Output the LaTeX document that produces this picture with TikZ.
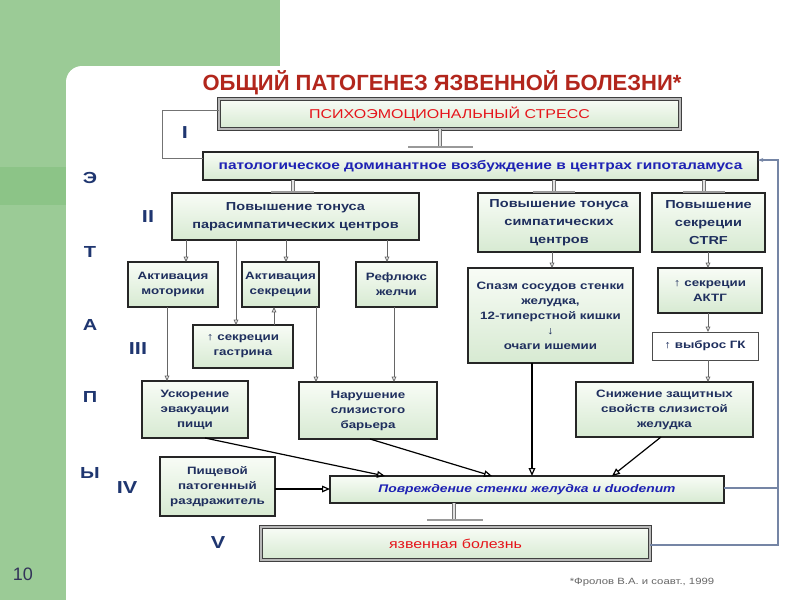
\documentclass[tikz,border=0pt]{standalone}
\usepackage{fontspec}
\setmainfont{Liberation Sans}
\newfontfamily\wf{Liberation Sans}[FakeStretch=1.25]
\usetikzlibrary{arrows.meta,calc,shadows}
\definecolor{bggreen}{HTML}{9BCB96}
\definecolor{bgdark}{HTML}{8CC487}
\definecolor{navy}{HTML}{1F2F5E}
\definecolor{lbl}{HTML}{1F3670}
\definecolor{ttl}{HTML}{B2261C}
\definecolor{redtxt}{HTML}{E5141A}
\definecolor{bluetxt}{HTML}{1E22B4}
\definecolor{fb}{HTML}{7585A5}
\definecolor{boxtop}{HTML}{F8FCF6}
\definecolor{boxbot}{HTML}{D7EAD2}
\newcommand\boxat[7]{\node[#6, minimum width={(#4-#2)*0.75pt}, minimum height={(#5-#3)*0.75pt}] (#1) at ({(#2+#4)/2},{(#3+#5)/2}) {#7};}
\tikzset{
  box/.style={draw=black!85, line width=0.8pt, top color=boxtop, bottom color=boxbot,
    inner sep=1pt, outer sep=0pt, align=center, text=navy,
    font=\wf\bfseries\fontsize{8}{11.25}\selectfont,
    drop shadow={shadow xshift=0.7pt, shadow yshift=-0.7pt, fill=black, opacity=0.3}},
  big/.style={box, font=\wf\bfseries\fontsize{8.7}{13.5}\selectfont},
  dbl/.style={box, draw=black!75, double=black!28, double distance=1.8pt, line width=0.6pt,
    font=\wf\fontsize{9.6}{12}\selectfont, text=redtxt},
  hypofont/.style={text=bluetxt, font=\wf\bfseries\fontsize{9.3}{11}\selectfont},
  povrfont/.style={text=bluetxt, font=\wf\bfseries\itshape\fontsize{8.3}{11}\selectfont},
  whitebox/.style={box, fill=white, top color=white, bottom color=white, draw=black!70, line width=0.6pt, drop shadow={opacity=0}},
  rom/.style={anchor=base, text=lbl, inner sep=0pt, font=\wf\bfseries\fontsize{13}{15}\selectfont},
  lab/.style={anchor=base, text=lbl, inner sep=0pt, font=\wf\bfseries\fontsize{12}{14}\selectfont},
  garr/.style={draw=black!60, line width=0.6pt, -{Triangle[open, length=4pt, width=3.5pt]}},
  barr/.style={draw=black, line width=0.9pt, -{Triangle[open, length=6pt, width=5pt]}},
  fbl/.style={draw=fb, line width=0.8pt},
  brk/.style={draw=black!55, line width=0.7pt},
  tstem/.style={draw=black!55, double=black!12, double distance=1.3pt, line width=0.5pt},
  tbase/.style={draw=black!40, line width=1.2pt}
}
\begin{document}
\begin{tikzpicture}[x=0.75pt,y=-0.75pt]
\useasboundingbox (0,0) rectangle (800,600);
\fill[white] (0,0) rectangle (800,600);
\fill[bggreen] (0,0) rectangle (280,66);
\fill[bggreen] (0,0) rectangle (66,600);
\fill[bggreen] (66,66) rectangle (90,90);
\fill[white, rounded corners=12pt] (66,66) rectangle (830,630);
\fill[bgdark] (0,167) rectangle (66,205);

% title
\node[anchor=base, text=ttl, inner sep=0pt, font=\bfseries\fontsize{16.5}{20}\selectfont] (title) at (442,90) {ОБЩИЙ ПАТОГЕНЕЗ ЯЗВЕННОЙ БОЛЕЗНИ*};

% boxes
\boxat{stress}{219}{99}{680}{129}{dbl}{ПСИХОЭМОЦИОНАЛЬНЫЙ СТРЕСС}
\boxat{hypo}{203}{152}{758}{180}{box,hypofont}{патологическое доминантное возбуждение в центрах гипоталамуса}
\boxat{para}{172}{193}{419}{240}{big}{Повышение тонуса\\парасимпатических центров}
\boxat{simp}{478}{193}{640}{252}{big}{Повышение тонуса\\симпатических\\центров}
\boxat{ctrf}{652}{193}{765}{252}{big}{Повышение\\секреции\\CTRF}
\boxat{motor}{128}{262}{218}{307}{box}{Активация\\моторики}
\boxat{aksekr}{242}{262}{319}{307}{box}{Активация\\секреции}
\boxat{reflux}{356}{262}{437}{307}{box}{Рефлюкс\\желчи}
\boxat{gastrin}{193}{325}{293}{368}{box}{↑ секреции\\гастрина}
\boxat{spasm}{468}{268}{633}{363}{box}{Спазм сосудов стенки\\желудка,\\12-типерстной кишки\\↓\\очаги ишемии}
\boxat{aktg}{658}{268}{762}{313}{box}{↑ секреции\\АКТГ}
\boxat{gk}{652}{332}{758}{360}{whitebox}{↑ выброс ГК}
\boxat{uskor}{142}{381}{248}{438}{box}{Ускорение\\эвакуации\\пищи}
\boxat{narush}{299}{382}{437}{439}{box}{Нарушение\\слизистого\\барьера}
\boxat{snizh}{576}{382}{753}{437}{box}{Снижение защитных\\свойств слизистой\\желудка}
\boxat{pishch}{160}{457}{275}{516}{box}{Пищевой\\патогенный\\раздражитель}
\boxat{povr}{330}{476}{724}{503}{box,povrfont}{Повреждение стенки желудка и duodenum}
\boxat{yazv}{261}{527}{650}{560}{dbl}{язвенная болезнь}

% labels
\node[lab] (lE) at (90,183) {Э};
\node[lab] (lT) at (90,257) {Т};
\node[lab] (lA) at (90,330) {А};
\node[lab] (lP) at (90,402) {П};
\node[lab] (lY) at (90,478) {Ы};
\node[rom] (r1) at (185,138) {I};
\node[rom] (r2) at (148,222) {II};
\node[rom] (r3) at (138,354) {III};
\node[rom] (r4) at (127,493) {IV};
\node[rom] (r5) at (218,548) {V};
\node[anchor=base, inner sep=0pt, text=black!75!blue!60!gray, font=\fontsize{13.5}{15}\selectfont] (pg) at (23,580) {10};
\node[anchor=base, inner sep=0pt, text=black!60, font=\wf\fontsize{6.8}{8}\selectfont] (fn) at (642,584) {*Фролов В.А. и соавт., 1999};

% bracket for stage I
\coordinate (b1) at (162,110);
\coordinate (b2) at (162,158);
\draw[brk] (stress.west |- b1) -- (b1) -- (b2) -- (hypo.west |- b2);

% T-connectors
\coordinate (t1) at (440,146);
\coordinate (t2) at (293,191);
\coordinate (t3) at (554,191);
\coordinate (t4) at (704,191);
\coordinate (t5) at (454,519);
\draw[tstem] (stress.south -| t1) -- (t1);
\draw[tbase] ($(t1)+(-32,1)$) -- ($(t1)+(33,1)$);
\draw[tstem] (hypo.south -| t2) -- (t2);
\draw[tbase] ($(t2)+(-22,1)$) -- ($(t2)+(21,1)$);
\draw[tstem] (hypo.south -| t3) -- (t3);
\draw[tbase] ($(t3)+(-21,1)$) -- ($(t3)+(21,1)$);
\draw[tstem] (hypo.south -| t4) -- (t4);
\draw[tbase] ($(t4)+(-21,1)$) -- ($(t4)+(21,1)$);
\draw[tstem] (povr.south -| t5) -- (t5);
\draw[tbase] ($(t5)+(-27,1)$) -- ($(t5)+(29,1)$);

% parasympathetic branch
\draw[garr] (para.south -| 186,0) -- (motor.north -| 186,0);
\draw[garr] (para.south -| 236,0) -- (gastrin.north -| 236,0);
\draw[garr] (para.south -| 286,0) -- (aksekr.north -| 286,0);
\draw[garr] (para.south -| 387,0) -- (reflux.north -| 387,0);
\draw[garr] (gastrin.north -| 274,0) -- (aksekr.south -| 274,0);
\draw[garr] (motor.south -| 167,0) -- (uskor.north -| 167,0);
\draw[garr] (aksekr.south -| 316,0) -- (narush.north -| 316,0);
\draw[garr] (reflux.south -| 394,0) -- (narush.north -| 394,0);

% sympathetic branch
\draw[garr] (simp.south -| 552,0) -- (spasm.north -| 552,0);
\draw[barr] (spasm.south -| 532,0) -- (povr.north -| 532,0);

% CTRF branch
\draw[garr] (ctrf.south -| 708,0) -- (aktg.north -| 708,0);
\draw[garr] (aktg.south -| 708,0) -- (gk.north -| 708,0);
\draw[garr] (gk.south -| 708,0) -- (snizh.north -| 708,0);

% to damage
\draw[barr] (uskor.south -| 205,0) -- (povr.north -| 385,0);
\draw[barr] (narush.south -| 370,0) -- (povr.north -| 492,0);
\draw[barr] (snizh.south -| 661,0) -- (povr.north -| 612,0);
\draw[barr] (pishch.east |- 0,489) -- (povr.west |- 0,489);

% feedback
\coordinate (fbb) at (778,545);
\coordinate (fbt) at (778,160);
\draw[fbl, -{Stealth[length=4pt, width=3pt]}] (yazv.east |- fbb) -- (fbb) -- (fbt) -- (hypo.east |- fbt);
\draw[fbl] (povr.east |- 0,488) -- (fbb |- 0,488);
\end{tikzpicture}
\end{document}
